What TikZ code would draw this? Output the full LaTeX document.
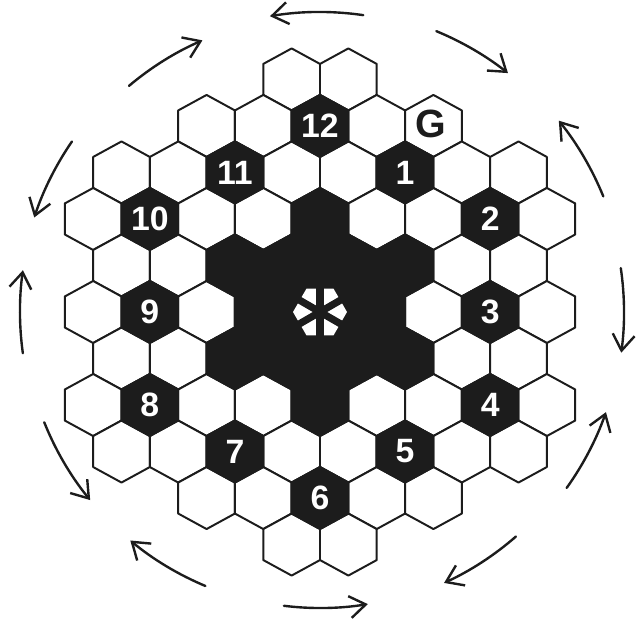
\documentclass[tikz,border=0pt]{standalone}
\usepackage{fontspec}
\setmainfont{Liberation Sans}
\usetikzlibrary{arrows.meta}
\definecolor{ink}{RGB}{28,28,28}

% one pointy-top cell of the board, centred at #1
\newcommand{\hexcell}[1]{(#1) ++(0,2/3) -- ++(1,-1/3) -- ++(0,-2/3) -- ++(-1,-1/3) -- ++(-1,1/3) -- ++(0,2/3) -- cycle}

\begin{document}
\begin{tikzpicture}[x=0.025cm, y=0.025cm, >={Straight Barb[length=4mm,width=5.5mm]},
    cell/.style={draw=ink, line width=1.4pt, fill=white, line join=round},
    dark/.style={cell, fill=ink},
    num/.style={text=white, font=\bfseries\fontsize{24}{24}\selectfont, inner sep=0pt},
    turn/.style={->, draw=ink, line width=1.7pt, line cap=round}]

    \useasboundingbox (-320,-310) rectangle (323,312);

    \begin{scope}[x=0.70875cm, y=-1.1625cm]
        % Board
        \foreach \row/\m in {-5/1,-4/4,-3/7,-2/8,-1/7,0/8,1/7,2/8,3/7,4/4,5/1} {
            \pgfmathtruncatemacro\ca{-\m}
            \pgfmathtruncatemacro\cb{2-\m}
            \foreach \col in {\ca,\cb,...,\m}
                \draw[cell] \hexcell{\col,\row};
        }

        % Centre star
        \foreach \col/\row in {0/0, 2/0, -2/0, 1/-1, -1/-1, 1/1, -1/1, 0/-2, 0/2, 3/-1, -3/-1, 3/1, -3/1}
            \draw[dark] \hexcell{\col,\row};

        % Numbered cells
        \foreach \col/\row/\t in {3/-3/1, 6/-2/2, 6/0/3, 6/2/4, 3/3/5, 0/4/6,
                                  -3/3/7, -6/2/8, -6/0/9, -6/-2/10, -3/-3/11, 0/-4/12} {
            \draw[dark] \hexcell{\col,\row};
            \node[num] (n\t) at (\col,\row) {\t};
        }
        \node[font=\bfseries\fontsize{28}{28}\selectfont, text=ink] (goal) at (3.9,-4.05) {G};
    \end{scope}

    % Centre mark
    \fill[white] (0:27) -- (60:27) -- (120:27) -- (180:27) -- (240:27) -- (300:27) -- cycle;
    \foreach \a in {30,90,150}
        \draw[ink, line width=0.18cm] (\a:29) -- (\a+180:29);

    % Arrows round the board
    \foreach \s/\e/\rad in {81.7/99.6/300, 130.2/113.4/296, 67.5/51.8/304, 22.2/38.7/306,
                            8.3/-7.7/304, -35.5/-19.3/303, -48.9/-65.4/298, -97/-80.7/296,
                            247.3/230.3/297, 201.8/219.3/297, 187.9/172/300, 145.5/161.7/301}
        \draw[turn] (\s:\rad) arc[start angle=\s, end angle=\e, radius=\rad*0.025cm];

\end{tikzpicture}
\end{document}
